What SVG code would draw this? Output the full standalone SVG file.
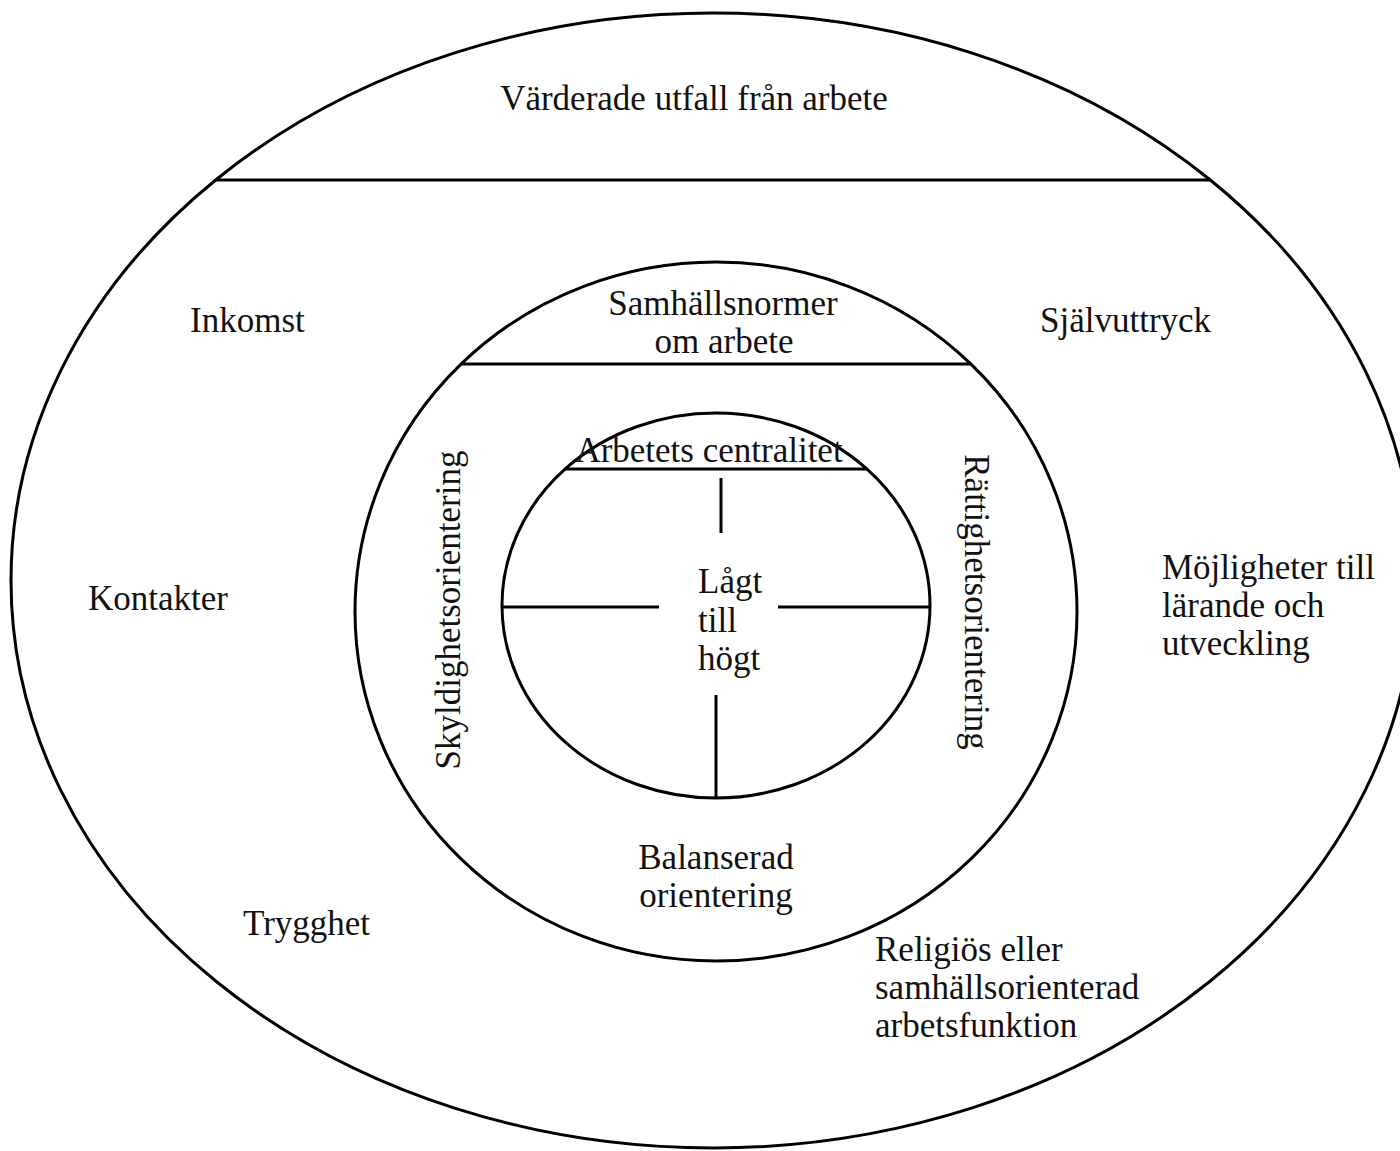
<svg xmlns="http://www.w3.org/2000/svg" width="1400" height="1151" viewBox="0 0 1400 1151">
<style>
.sh{fill:none;stroke:#000;stroke-width:3}
.ln{stroke:#000;stroke-width:3;fill:none}
text{font-family:"Liberation Serif","Times New Roman",serif;font-size:35px;fill:#111}
.m{text-anchor:middle}
</style>
<rect x="0" y="0" width="1400" height="1151" fill="#fff"/>
<g id="outer">
<ellipse class="sh" cx="713" cy="580.5" rx="702" ry="567.5"/>
<line class="ln" x1="216" y1="180" x2="1210" y2="180"/>
<text class="m" x="694" y="110">Värderade utfall från arbete</text>
</g>
<g id="inkomst"><text x="190" y="332">Inkomst</text></g>
<g id="sjalvuttryck"><text x="1040" y="332">Självuttryck</text></g>
<g id="kontakter"><text x="88" y="610">Kontakter</text></g>
<g id="mojligheter"><text x="1162" y="579">Möjligheter till</text><text x="1162" y="617">lärande och</text><text x="1162" y="655">utveckling</text></g>
<g id="trygghet"><text x="243" y="935">Trygghet</text></g>
<g id="religios"><text x="875" y="961">Religiös eller</text><text x="875" y="999">samhällsorienterad</text><text x="875" y="1037">arbetsfunktion</text></g>
<g id="middle">
<ellipse class="sh" cx="716" cy="611.5" rx="361" ry="349.5"/>
<line class="ln" x1="461" y1="364" x2="971" y2="364"/>
<text class="m" x="723" y="315">Samhällsnormer</text>
<text class="m" x="724" y="353">om arbete</text>
</g>
<g id="skyldighet"><text class="m" transform="translate(460,610) rotate(-90)">Skyldighetsorientering</text></g>
<g id="rattighet"><text class="m" transform="translate(965,602) rotate(90)">Rättighetsorientering</text></g>
<g id="balanserad"><text class="m" x="716" y="869">Balanserad</text><text class="m" x="716" y="907">orientering</text></g>
<g id="inner">
<ellipse class="sh" cx="716" cy="605.5" rx="214" ry="192.5"/>
<line class="ln" x1="565" y1="469" x2="867" y2="469"/>
<text class="m" x="709" y="462">Arbetets centralitet</text>
</g>
<g id="center"><text x="698" y="593">Lågt</text><text x="698" y="631.5">till</text><text x="698" y="670">högt</text></g>
<g id="connectors">
<line class="ln" x1="721" y1="478" x2="721" y2="533"/>
<line class="ln" x1="716" y1="695" x2="716" y2="798"/>
<line class="ln" x1="503" y1="607" x2="659" y2="607"/>
<line class="ln" x1="778" y1="607" x2="930" y2="607"/>
</g>
</svg>
